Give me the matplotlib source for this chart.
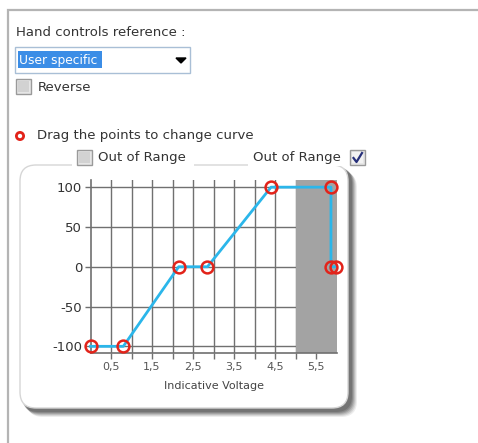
import matplotlib
matplotlib.use("Agg")
import matplotlib.pyplot as plt
from matplotlib.patches import FancyBboxPatch, Rectangle, Circle
import numpy as np

# ---- data ----
curve_x = [0.0, 0.8, 2.15, 2.85, 4.4, 5.86, 5.86, 5.98]
curve_y = [-100, -100, 0, 0, 100, 100, 0, 0]
xtick_vals = [0.5, 1.5, 2.5, 3.5, 4.5, 5.5]
xtick_labels = ["0,5", "1,5", "2,5", "3,5", "4,5", "5,5"]
ytick_vals = [-100, -50, 0, 50, 100]
ytick_labels = ["-100", "-50", "0", "50", "100"]
out_of_range_span = (5.0, 6.0)
x_label = "Indicative Voltage"

W, H = 478, 443
fig = plt.figure(figsize=(W / 100, H / 100), dpi=100)
fig.patch.set_facecolor("white")

# ---- background UI layer (pixel coordinates) ----
bg = fig.add_axes([0, 0, 1, 1], zorder=0)
bg.set_xlim(0, W)
bg.set_ylim(H, 0)
bg.axis("off")

txt = "#333333"
fs = 9.5

# outer panel border
bg.plot([8, 8, W], [H, 10, 10], color="#b4b4b4", lw=1.6, solid_joinstyle="miter")

bg.text(16, 32, "Hand controls reference :", fontsize=fs, color=txt, va="center", ha="left")

# dropdown
bg.add_patch(Rectangle((15, 47), 175, 26, facecolor="white", edgecolor="#a9bfd6", lw=1.0))
bg.add_patch(Rectangle((18, 51), 84, 17, facecolor="#3b8de6", edgecolor="none"))
bg.text(19, 60, "User specific", fontsize=8.8, color="white", va="center", ha="left")
bg.fill([176, 186, 181], [58, 58, 63], color="black")

def checkbox(x, y, checked=False):
    bg.add_patch(Rectangle((x, y), 15, 15, facecolor="#e6e6e6", edgecolor="#9a9a9a", lw=1.0))
    bg.add_patch(Rectangle((x + 2, y + 2), 11, 11, facecolor="#d2d2d2", edgecolor="none"))
    if checked:
        bg.add_patch(Rectangle((x + 2, y + 2), 11, 11, facecolor="#f2f2f2", edgecolor="none"))
        bg.plot([x + 3.5, x + 6.5, x + 12], [y + 8, y + 12, y + 3], color="#27307a", lw=1.6)

checkbox(16, 79)
bg.text(38, 87, "Reverse", fontsize=fs, color=txt, va="center", ha="left")

# legend-like hint
bg.add_patch(Circle((20, 136), 3.6, facecolor="none", edgecolor="#e2231a", lw=2.0))
bg.text(37, 135, "Drag the points to change curve", fontsize=fs, color=txt, va="center", ha="left")

# chart group box with shadow
for i, a in enumerate([0.10, 0.14, 0.18, 0.24, 0.30, 0.36]):
    off = 9 - i
    bg.add_patch(FancyBboxPatch((18 + off, 163 + off), 330, 245,
                                boxstyle="round,pad=0,rounding_size=16",
                                facecolor="#505050", edgecolor="none", alpha=a))
bg.add_patch(FancyBboxPatch((20, 165), 328, 243, boxstyle="round,pad=0,rounding_size=16",
                            facecolor="white", edgecolor="#d6d6d6", lw=1.0))
# title area on top of the box
bg.add_patch(Rectangle((72, 150), 122, 16, facecolor="white", edgecolor="none"))
bg.add_patch(Rectangle((248, 150), 120, 16, facecolor="white", edgecolor="none"))
checkbox(77, 150)
bg.text(98, 158, "Out of Range", fontsize=fs, color=txt, va="center", ha="left")
bg.text(253, 158, "Out of Range", fontsize=fs, color=txt, va="center", ha="left")
checkbox(350, 150, checked=True)

# ---- chart axes ----
left, right, top, bottom = 90.5, 336.7, 180.0, 352.7
ax = fig.add_axes([left / W, 1 - bottom / H, (right - left) / W, (bottom - top) / H], zorder=2)
ax.set_facecolor("white")
ax.set_xlim(0, 6)
ax.set_ylim(-108, 109)

grid_c = "#707070"
ax.set_xticks(xtick_vals)
ax.set_xticklabels(xtick_labels)
ax.set_xticks([1, 2, 3, 4, 5], minor=True)
ax.set_yticks(ytick_vals)
ax.set_yticklabels(ytick_labels)
ax.grid(True, which="both", axis="x", color=grid_c, lw=1.0, zorder=1)
ax.grid(True, which="major", axis="y", color=grid_c, lw=1.0, zorder=1)
ax.set_axisbelow(True)

for s in ["top", "right"]:
    ax.spines[s].set_visible(False)
for s in ["left", "bottom"]:
    ax.spines[s].set_color(grid_c)
    ax.spines[s].set_linewidth(1.2)

ax.tick_params(axis="x", which="both", length=4, width=1, color=grid_c, labelsize=8,
               labelcolor="#555555", pad=3)
ax.tick_params(axis="y", length=4, width=1, color=grid_c, labelsize=fs, labelcolor=txt, pad=2)

ax.axvspan(out_of_range_span[0], out_of_range_span[1], color="#a3a3a3", lw=0, zorder=2)

ax.plot(curve_x, curve_y, color="#2bb6ea", lw=2.0, zorder=3, clip_on=False)
ax.plot(curve_x, curve_y, ls="none", marker="o", markersize=8.5, markerfacecolor="none",
        markeredgecolor="#e2231a", markeredgewidth=1.8, zorder=4, clip_on=False)

ax.set_xlabel(x_label, fontsize=8, color="#444444", labelpad=6)

fig.savefig("out.png", dpi=100, facecolor="white")
